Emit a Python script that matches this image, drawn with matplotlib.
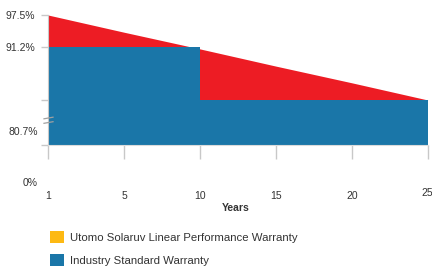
import numpy as np
import matplotlib
matplotlib.use("Agg")
import matplotlib.pyplot as plt
from matplotlib.patches import Patch
from matplotlib.lines import Line2D
from matplotlib.transforms import ScaledTranslation

plt.rcParams['font.family'] = ['Liberation Sans', 'DejaVu Sans']

years = ["1", "5", "10", "15", "20", "25"]
utomo = [97.5, 94.1, 90.8, 87.4, 84.1, 80.7]          # linear warranty (red area)
industry = [91.2, 91.2, 80.7, 80.7, 80.7, 80.7]       # step warranty (blue area)
ytick_vals = [97.5, 91.2, 80.7, 0]
ytick_labels = ["97.5%", "91.2%", "80.7%", "0%"]
legend_labels = ["Utomo Solaruv Linear Performance Warranty", "Industry Standard Warranty"]

RED = "#ED1C24"
BLUE = "#1A76A8"
YELLOW = "#FDB913"
GREY = "#c8c8c8"
TXT = "#333333"

W, H = 432, 269
fig = plt.figure(figsize=(W / 100, H / 100), dpi=100)

def fx(p): return p / W
def fy(p): return 1 - p / H

ax = fig.add_axes([fx(48), fy(145), fx(428) - fx(48), fy(15) - fy(145)])

BRK = 80.7
K = 0.110
def fwd(v):
    v = np.asarray(v, dtype=float)
    return np.where(v >= BRK, v, BRK - (BRK - v) * K)
def inv(t):
    t = np.asarray(t, dtype=float)
    return np.where(t >= BRK, t, BRK - (BRK - t) / K)
ax.set_yscale('function', functions=(fwd, inv))

x = np.arange(len(years))
ax.fill_between(x, 80.7, utomo, color=RED, linewidth=0)
ax.fill_between(x, 0, industry, step='post', color=BLUE, linewidth=0)

ax.set_xlim(0, len(years) - 1)
ax.set_ylim(0, 97.5)

ax.set_xticks(x)
ax.set_xticklabels(years, fontsize=7.5, color=TXT)
ax.tick_params(axis='x', length=10, color=GREY, width=1, pad=23)
last = ax.get_xticklabels()[-1]
last.set_horizontalalignment('right')
last.set_transform(last.get_transform() + ScaledTranslation(5 / 100, 3 / 100, fig.dpi_scale_trans))
ax.set_yticks(ytick_vals)
ax.set_yticklabels([ytick_labels[0], ytick_labels[1], "", ""], fontsize=7.5, color=TXT)
ax.tick_params(axis='y', length=5, color=GREY, width=1, pad=4)

for s in ['top', 'right']:
    ax.spines[s].set_visible(False)
ax.spines['left'].set_color(GREY)
ax.spines['bottom'].set_color("#dcdcdc")

# displaced labels as in reference
fig.text(fx(38), fy(132), ytick_labels[2], ha='right', va='center', fontsize=7.5, color=TXT)
fig.text(fx(38), fy(183), ytick_labels[3], ha='right', va='center', fontsize=7.5, color=TXT)

# axis break marks
for yy in (118, 122.5):
    fig.add_artist(Line2D([fx(44), fx(53)], [fy(yy + 0.8), fy(yy - 0.8)], color="#a0a0a0", lw=0.9))

fig.text(fx(236), fy(208), "Years", ha='center', va='center', fontsize=7.5, fontweight='bold', color=TXT)

handles = [Patch(facecolor=YELLOW, edgecolor='none'), Patch(facecolor=BLUE, edgecolor='none')]
fig.legend(handles, legend_labels, loc='upper left', bbox_to_anchor=(fx(42), fy(223)),
           frameon=False, fontsize=8.2, handlelength=1.2, handleheight=1.3,
           labelspacing=0.9, handletextpad=0.55, labelcolor=TXT, borderpad=0.2)

fig.savefig("out.png", dpi=100)
